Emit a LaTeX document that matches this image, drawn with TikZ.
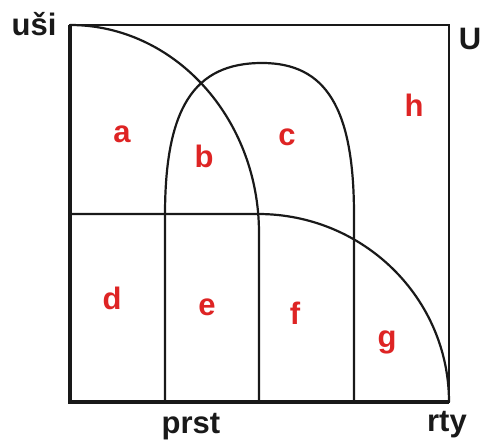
\documentclass[tikz,border=0pt]{standalone}
\usepackage{fontspec}
\setmainfont{Liberation Sans}
\usepackage{tikz}
\usetikzlibrary{calc}
\definecolor{regred}{RGB}{222,36,36}

\begin{document}
\begin{tikzpicture}[x=1pt, y=-1pt,
    curve/.style={line width=2.2pt, black!90},
    setname/.style={anchor=base, font=\fontsize{31}{36}\selectfont\bfseries, text=black!90},
    region/.style={anchor=base, font=\fontsize{31}{36}\selectfont\bfseries, text=regred}]
  \useasboundingbox (0,0) rectangle (483,443);
  \coordinate (TL) at (70,25);
  \coordinate (TR) at (449,25);
  \coordinate (BL) at (70,402);
  \coordinate (BR) at (449,402);
  \coordinate (H) at (70,214);
  \coordinate (HM) at (258,214);
  \coordinate (EE) at (259,233);
  \coordinate (EB) at (259,402);
  \coordinate (PL) at (165,402);
  \coordinate (PLT) at (165,215);
  \coordinate (PT) at (262,63);
  \coordinate (PRT) at (354,215);
  \coordinate (PR) at (354,402);

  \draw[curve] (TL) rectangle (BR);
  \draw[line width=3.6pt, black!90] (TL) -- (BL) -- (BR);

  \draw[curve] (TL) arc[start angle=-90, end angle=0, x radius=189, y radius=208] -- (EB);
  \draw[curve] (H) -- (HM) arc[start angle=-90, end angle=0, x radius=191, y radius=188];
  \draw[curve] (PL) -- (PLT) .. controls (165,108) and (194,63) .. (PT)
    .. controls (326,63) and (354,108) .. (PRT) -- (PR);

  \node[setname] (usi) at (34,36) {uši};
  \node[setname] (uni) at (470,50) {U};
  \node[setname] (prst) at (191,434) {prst};
  \node[setname] (rty) at (447,432) {rty};

  \node[region] (a) at (122,143) {a};
  \node[region] (b) at (204,168) {b};
  \node[region] (c) at (287,146) {c};
  \node[region] (h) at (414,117) {h};
  \node[region] (d) at (112,310) {d};
  \node[region] (e) at (207,316) {e};
  \node[region] (f) at (295,325) {f};
  \node[region] (g) at (387,348) {g};
\end{tikzpicture}
\end{document}
